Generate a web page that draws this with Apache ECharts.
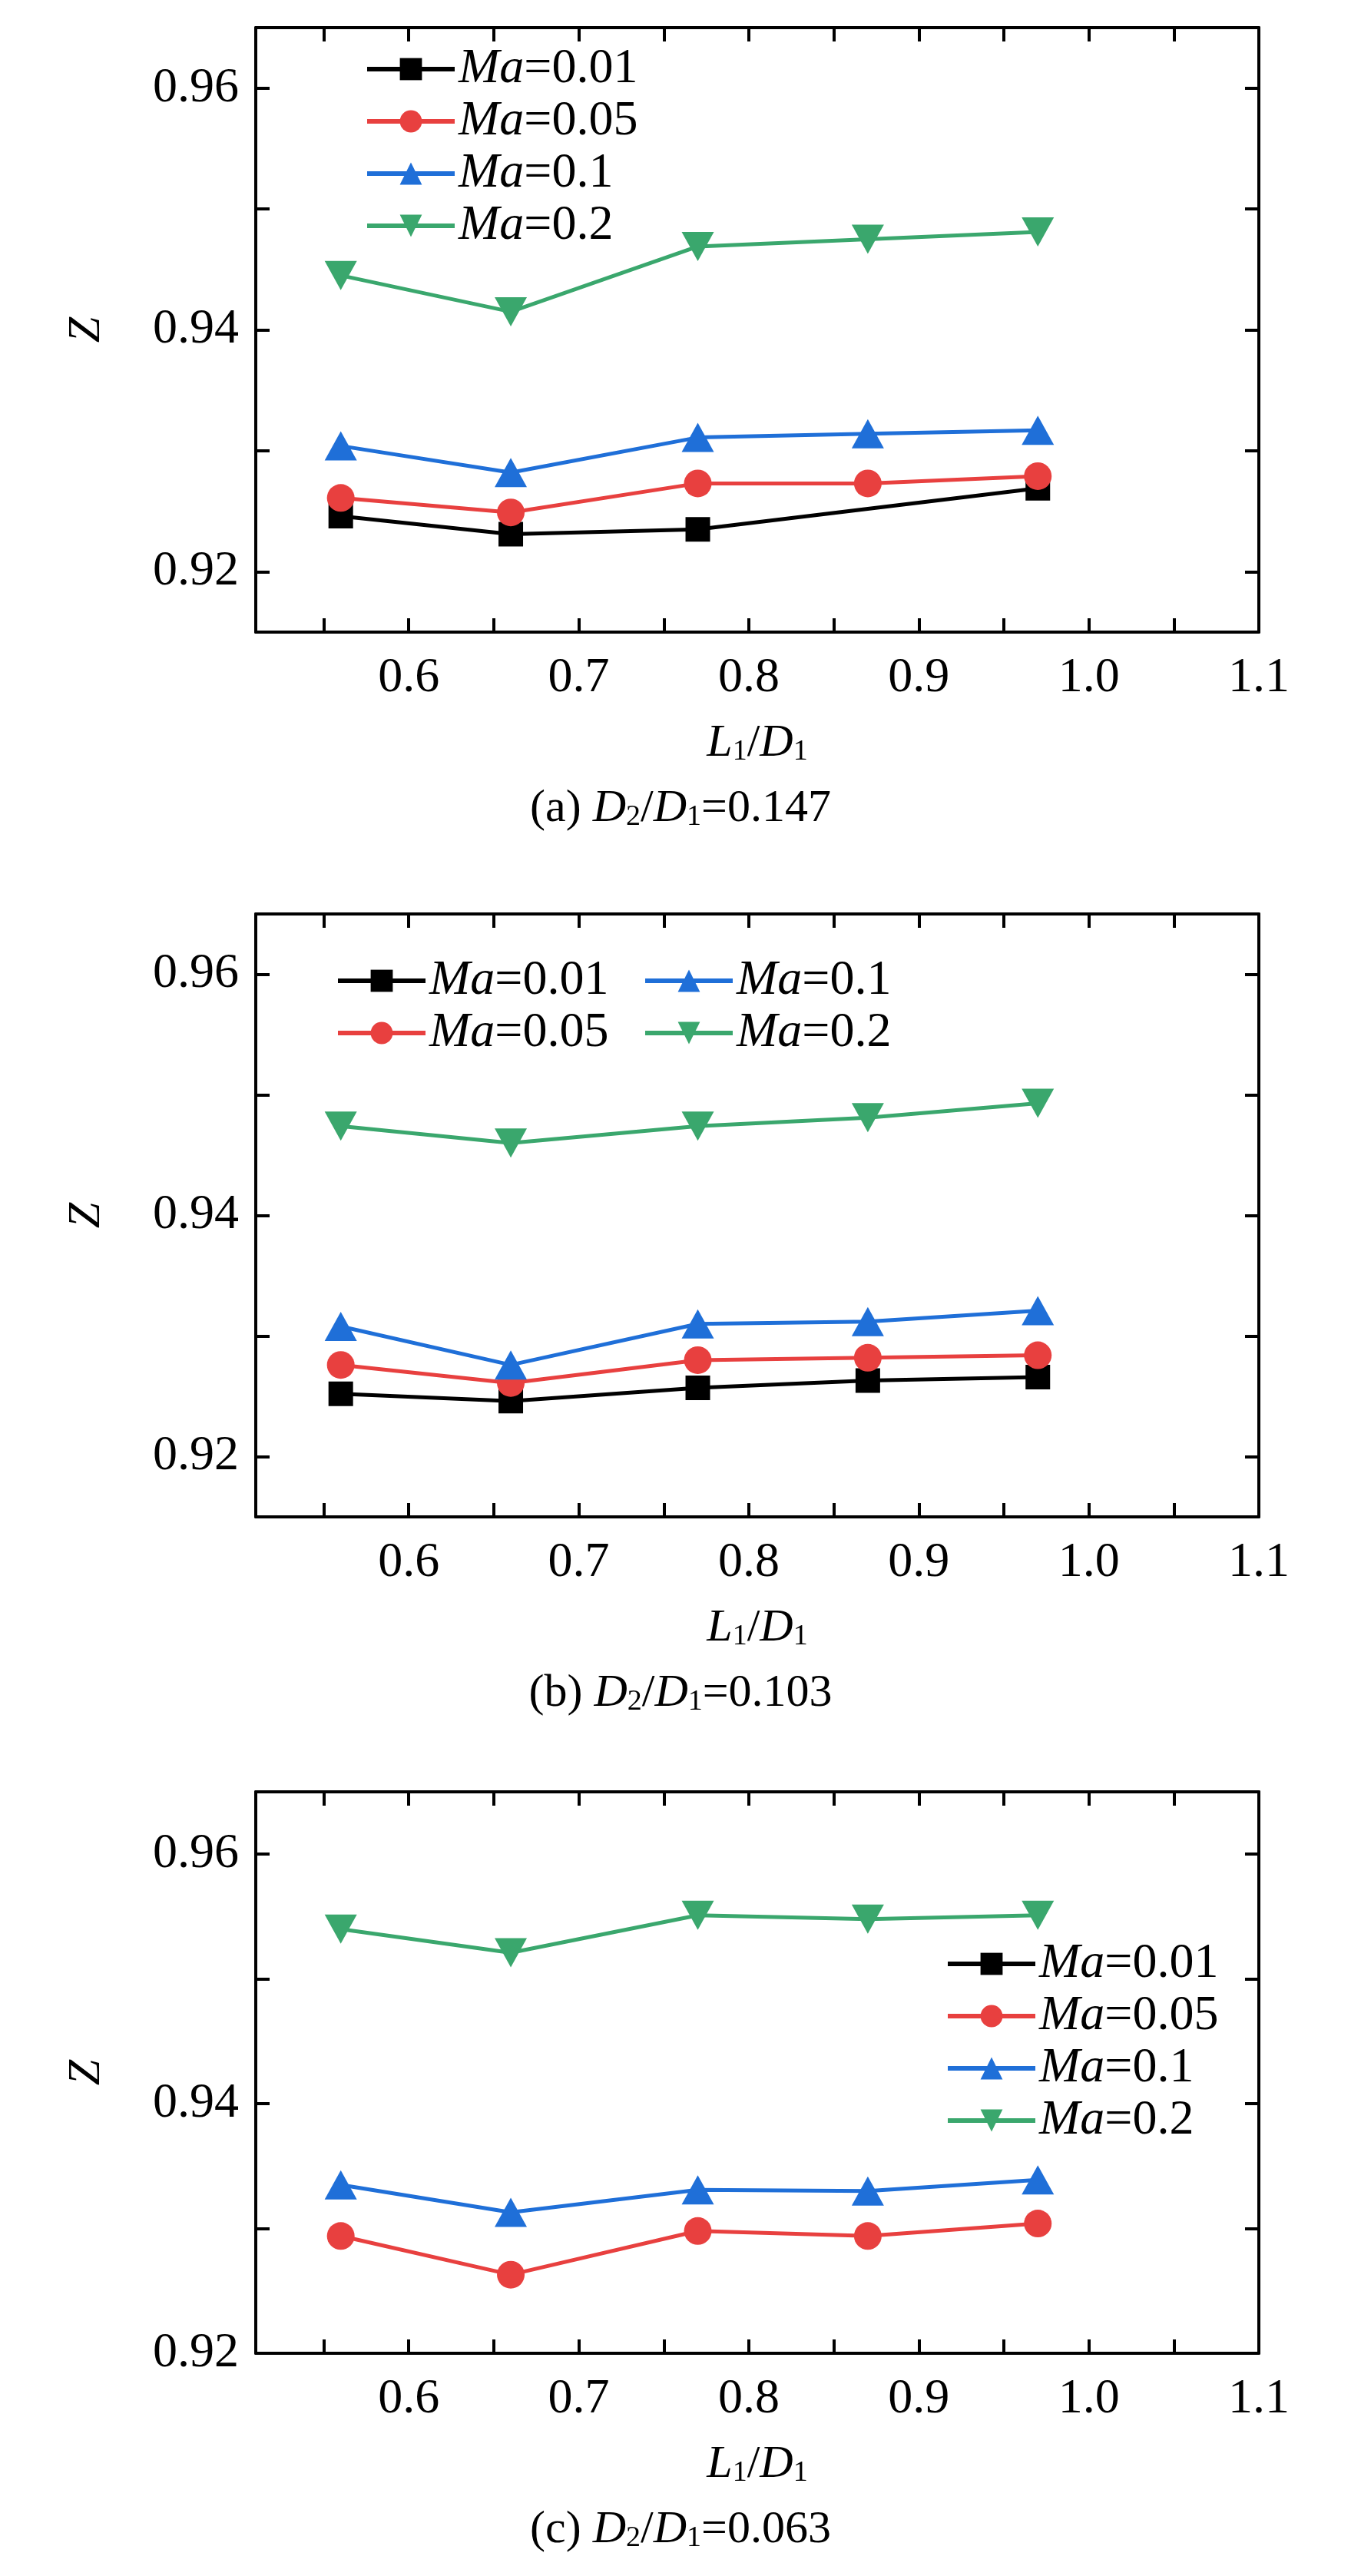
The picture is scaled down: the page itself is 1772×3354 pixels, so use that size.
<!DOCTYPE html>
<html>
<head>
<meta charset="utf-8">
<script src="https://cdn.jsdelivr.net/npm/echarts@6/dist/echarts.min.js"></script>
<style>html,body{margin:0;padding:0;background:#fff}#main{width:1772px;height:3354px}</style>
</head>
<body>
<div id="main"></div>
<script>
// x values (L1/D1)
var xVals = [0.56, 0.66, 0.77, 0.87, 0.97];
var maNames = ['0.01', '0.05', '0.1', '0.2'];
var colors = ['#000000', '#e8403f', '#1f6fd8', '#3aa76d'];
var symbols = ['rect', 'circle', 'triangle', 'path://M0,0 L10,0 L5,9 Z'];
var xTicks = [0.55, 0.6, 0.65, 0.7, 0.75, 0.8, 0.85, 0.9, 0.95, 1.0, 1.05, 1.1];
var xLabels = [0.6, 0.7, 0.8, 0.9, 1.0, 1.1];
var yTicks = [0.92, 0.93, 0.94, 0.95, 0.96];
var yLabels = [0.92, 0.94, 0.96];
var captions = ['0.147', '0.103', '0.063'];

/* (a) D2/D1=0.147 ; black has no point at 0.87 */
var a01 = [[0.56, 0.9246], [0.66, 0.9231], [0.77, 0.9235], [0.97, 0.9269]];
var a05 = [0.9261, 0.9249, 0.9273, 0.9273, 0.9279];
var a10 = [0.9304, 0.9282, 0.9311, 0.9314, 0.9317];
var a20 = [0.9445, 0.9415, 0.9469, 0.9475, 0.9481];
/* (b) D2/D1=0.103 */
var b01 = [0.9252, 0.9246, 0.9257, 0.9263, 0.9266];
var b05 = [0.9276, 0.9261, 0.9280, 0.9282, 0.9284];
var b10 = [0.9308, 0.9276, 0.9310, 0.9312, 0.9321];
var b20 = [0.9474, 0.9460, 0.9474, 0.9481, 0.9493];
/* (c) D2/D1=0.063 ; Ma=0.01 not in view */
var c01 = [];
var c05 = [0.9294, 0.9263, 0.9298, 0.9294, 0.9304];
var c10 = [0.9335, 0.9313, 0.9331, 0.9330, 0.9339];
var c20 = [0.9540, 0.9521, 0.9551, 0.9548, 0.9551];

var panels = [
	{ data: [a01, a05, a10, a20], top: 36, height: 787, yMin: 0.915 },
	{ data: [b01, b05, b10, b20], top: 1190, height: 785, yMin: 0.915 },
	{ data: [c01, c05, c10, c20], top: 2333, height: 731, yMin: 0.92 }
];

function pairs(arr) {
	if (arr.length && Array.isArray(arr[0])) return arr;
	return arr.map(function(v, i) { return [xVals[i], v]; });
}

var font = "'Liberation Serif', 'DejaVu Serif', serif";
var grids = [], xAxes = [], yAxes = [], series = [], titles = [];
var axLine = { show: true, onZero: false, lineStyle: { color: '#000', width: 4 } };
var tick = { inside: true, length: 18, lineStyle: { color: '#000', width: 4 } };
var rich = {
	i: { fontFamily: font, fontStyle: 'italic', fontWeight: 'normal', color: '#000', fontSize: 60, lineHeight: 70, verticalAlign: 'bottom' },
	n: { fontFamily: font, fontWeight: 'normal', color: '#000', fontSize: 60, lineHeight: 70, verticalAlign: 'bottom' },
	s: { fontFamily: font, fontWeight: 'normal', color: '#000', fontSize: 38, lineHeight: 50, verticalAlign: 'bottom' }
};

panels.forEach(function(p, gi) {
	grids.push({ left: 333, width: 1306, top: p.top, height: p.height });
	xAxes.push({
		gridIndex: gi, type: 'value', min: 0.51, max: 1.1, position: 'bottom',
		axisLine: axLine, splitLine: { show: false },
		axisTick: Object.assign({ customValues: xTicks }, tick),
		axisLabel: { customValues: xLabels, margin: 28, fontFamily: font, fontSize: 64, color: '#000',
			formatter: function(v) { return v.toFixed(1); } },
		name: '{i|L}{s|1}{n|/}{i|D}{s|1}', nameLocation: 'middle', nameGap: 105,
		nameTextStyle: { fontFamily: font, rich: rich }
	});
	xAxes.push({
		gridIndex: gi, type: 'value', min: 0.51, max: 1.1, position: 'top',
		axisLine: axLine, splitLine: { show: false },
		axisTick: Object.assign({ customValues: xTicks }, tick), axisLabel: { show: false }
	});
	yAxes.push({
		gridIndex: gi, type: 'value', min: p.yMin, max: 0.965, position: 'left',
		axisLine: axLine, splitLine: { show: false },
		axisTick: Object.assign({ customValues: yTicks }, tick),
		axisLabel: { customValues: yLabels, margin: 22, fontFamily: font, fontSize: 64, color: '#000',
			formatter: function(v) { return v.toFixed(2); } },
		name: 'Z', nameLocation: 'middle', nameGap: 190, nameRotate: 90,
		nameTextStyle: { fontFamily: font, fontStyle: 'italic', fontSize: 60, color: '#000' }
	});
	yAxes.push({
		gridIndex: gi, type: 'value', min: p.yMin, max: 0.965, position: 'right',
		axisLine: axLine, splitLine: { show: false },
		axisTick: Object.assign({ customValues: yTicks }, tick), axisLabel: { show: false }
	});
	p.data.forEach(function(d, si) {
		series.push({
			name: 'Ma=' + maNames[si], type: 'line', xAxisIndex: gi * 2, yAxisIndex: gi * 2,
			data: pairs(d), symbol: symbols[si],
			symbolSize: si === 0 ? 32 : (si === 1 ? 36 : [42, 38]),
			itemStyle: { color: colors[si] }, lineStyle: { color: colors[si], width: 5 },
			z: 2 + si, animation: false
		});
	});
	titles.push({
		text: '{n|(' + 'abc'[gi] + ') }{i|D}{s|2}{n|/}{i|D}{s|1}{n|=' + captions[gi] + '}',
		left: 'center', top: p.top + p.height + 185,
		textStyle: { fontFamily: font, fontWeight: 'normal', rich: rich }
	});
});

var legendText = {
	fontFamily: font, fontSize: 64, color: '#000',
	rich: {
		i: { fontFamily: font, fontStyle: 'italic', fontSize: 64, color: '#000' },
		n: { fontFamily: font, fontSize: 64, color: '#000' }
	}
};
function legendFmt(name) { return '{i|Ma}{n|' + name.slice(2) + '}'; }
function legend(names, left, top, gap) {
	return { data: names, orient: 'vertical', left: left, top: top, itemGap: gap,
		itemWidth: 114, itemHeight: 36, textStyle: legendText, formatter: legendFmt,
		selectedMode: false, padding: 0, lineStyle: { width: 6 } };
}
var L = maNames.map(function(m) { return 'Ma=' + m; });

var option = {
	animation: false,
	backgroundColor: '#fff',
	title: titles,
	grid: grids, xAxis: xAxes, yAxis: yAxes, series: series,
	legend: [
		legend(L, 475, 58, 4),
		legend([L[0], L[1]], 437, 1245, 4),
		legend([L[2], L[3]], 837, 1245, 4),
		legend(L, 1231, 2525, 4)
	]
};
echarts.init(document.getElementById('main')).setOption(option);
</script>
</body>
</html>
